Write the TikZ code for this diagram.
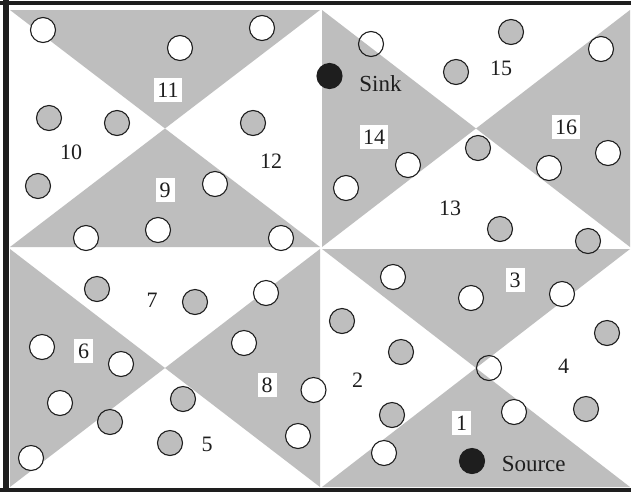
\documentclass[tikz,border=0pt]{standalone}
\usepackage{fontspec}
\setmainfont{Liberation Serif}
\definecolor{shade}{RGB}{190,190,190}
\definecolor{ink}{RGB}{30,30,30}
\begin{document}
\begin{tikzpicture}[x=1pt,y=-1pt,
  region/.style={fill=shade,draw=none},
  wsensor/.style={draw=ink,line width=1.1pt,fill=white},
  gsensor/.style={draw=ink,line width=1.1pt,fill=shade},
  osensor/.style={draw=ink,line width=1.1pt},
  bsensor/.style={draw=ink,line width=1.1pt,fill=ink},
  frame/.style={draw=ink,line cap=butt},
  lbl/.style={font=\fontsize{22}{24}\selectfont,text=ink,inner xsep=3pt,inner ysep=4.5pt,text height=15pt,text depth=0pt,minimum width=19pt},
  boxlbl/.style={lbl,fill=white},
  word/.style={font=\fontsize{23}{25}\selectfont,text=ink,inner sep=0pt,anchor=base}]
\useasboundingbox (0,0) rectangle (631,491);
\fill[white] (0,0) rectangle (631,491);
% quadrant TL: x 10-320, y 10-247, centre (165,128.5)
\fill[region] (10,10) -- (320,10) -- (165,128.5) -- cycle;
\fill[region] (10,247) -- (320,247) -- (165,128.5) -- cycle;
% quadrant TR: x 322-630, y 10-247, centre (476,128.5)
\fill[region] (322,10) -- (322,247) -- (476,128.5) -- cycle;
\fill[region] (630,10) -- (630,247) -- (476,128.5) -- cycle;
% quadrant BL: x 10-320, y 249-487, centre (165,368)
\fill[region] (10,249) -- (10,487) -- (165,368) -- cycle;
\fill[region] (320,249) -- (320,487) -- (165,368) -- cycle;
% quadrant BR: x 322-630, y 249-487, centre (476,368)
\fill[region] (322,249) -- (630,249) -- (476,368) -- cycle;
\fill[region] (322,487) -- (630,487) -- (476,368) -- cycle;
% frame
\draw[frame,line width=4.5pt] (0,3) -- (631,3);
\draw[frame,line width=5.5pt] (5.75,0) -- (5.75,491);
\draw[frame,line width=4pt] (0,489.5) -- (631,489.5);
% sensors TL
\foreach \p in {(43,30),(180,48),(262,28),(215,184),(158,230),(86,238),(281,238)}
  \draw[wsensor] \p circle[radius=12.5];
\foreach \p in {(49,118),(117,123),(253,123),(38,186)}
  \draw[gsensor] \p circle[radius=12.5];
% sensors TR
\draw[osensor] (371,44) circle[radius=12.5];
\foreach \p in {(511,32),(456,72),(478,148),(500,229),(588,241)}
  \draw[gsensor] \p circle[radius=12.5];
\foreach \p in {(601,49),(408,165),(346,188),(549,168),(608,153)}
  \draw[wsensor] \p circle[radius=12.5];
% sensors BL
\foreach \p in {(97,289),(195,302),(183,399),(110,422),(170,443)}
  \draw[gsensor] \p circle[radius=12.5];
\foreach \p in {(266,293),(42,347),(121,364),(244,343),(313.5,390),(60,403),(298,436),(31,458)}
  \draw[wsensor] \p circle[radius=12.5];
% sensors BR
\foreach \p in {(393,277),(471,298),(562,294),(514,412),(384,453)}
  \draw[wsensor] \p circle[radius=12.5];
\foreach \p in {(342,321),(401,352),(607,333),(392,415),(586,409)}
  \draw[gsensor] \p circle[radius=12.5];
\draw[osensor] (489,368) circle[radius=12.5];
% sink and source
\draw[bsensor] (329.5,76) circle[radius=12.5];
\draw[bsensor] (472,461) circle[radius=12.5];
\node[word] (sink) at (380.5,91) {Sink};
\node[word] (source) at (533.7,471) {Source};
% region labels
\node[boxlbl] (r11) at (168,90) {11};
\node[lbl] (r10) at (71,152) {10};
\node[lbl] (r12) at (271,161) {12};
\node[boxlbl] (r9) at (165,190) {9};
\node[lbl] (r15) at (501,67.5) {15};
\node[boxlbl] (r14) at (374,136.5) {14};
\node[boxlbl] (r16) at (566,126.7) {16};
\node[lbl] (r13) at (450,207.5) {13};
\node[lbl] (r7) at (152,300) {7};
\node[boxlbl] (r6) at (83.7,351) {6};
\node[boxlbl] (r8) at (267,384.7) {8};
\node[lbl] (r5) at (207,443.5) {5};
\node[boxlbl] (r3) at (515,280) {3};
\node[lbl] (r4) at (563.5,365.5) {4};
\node[lbl] (r2) at (357.7,380) {2};
\node[boxlbl] (r1) at (461.7,423) {1};
\end{tikzpicture}
\end{document}
